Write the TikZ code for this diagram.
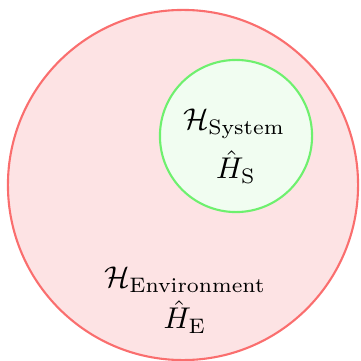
\documentclass[tikz,border=0pt]{standalone}
\usepackage{amsmath}
\definecolor{envline}{RGB}{250,110,110}
\definecolor{envfill}{RGB}{253,227,228}
\definecolor{sysline}{RGB}{110,240,110}
\definecolor{sysfill}{RGB}{241,253,241}
\tikzset{
  region/.style={circle, line width=0.7pt, inner sep=0pt},
  lbl/.style={inner sep=0pt, font=\normalsize}
}
\begin{document}
\begin{tikzpicture}[x=0.3333pt, y=-0.3333pt]
\useasboundingbox (0,0) rectangle (360,361);
\node[region, draw=envline, fill=envfill, minimum size=116.7pt] (env) at (183,185) {};
\node[region, draw=sysline, fill=sysfill, minimum size=50.7pt] (sys) at (236,136) {};
\node[lbl] (hsys) at (234,124) {$\mathcal{H}_{\text{System}}$};
\node[lbl] (hs) at (236,167) {$\hat{H}_{\text{S}}$};
\node[lbl] (henv) at (185,280) {$\mathcal{H}_{\text{Environment}}$};
\node[lbl] (he) at (185,317) {$\hat{H}_{\text{E}}$};
\end{tikzpicture}
\end{document}
